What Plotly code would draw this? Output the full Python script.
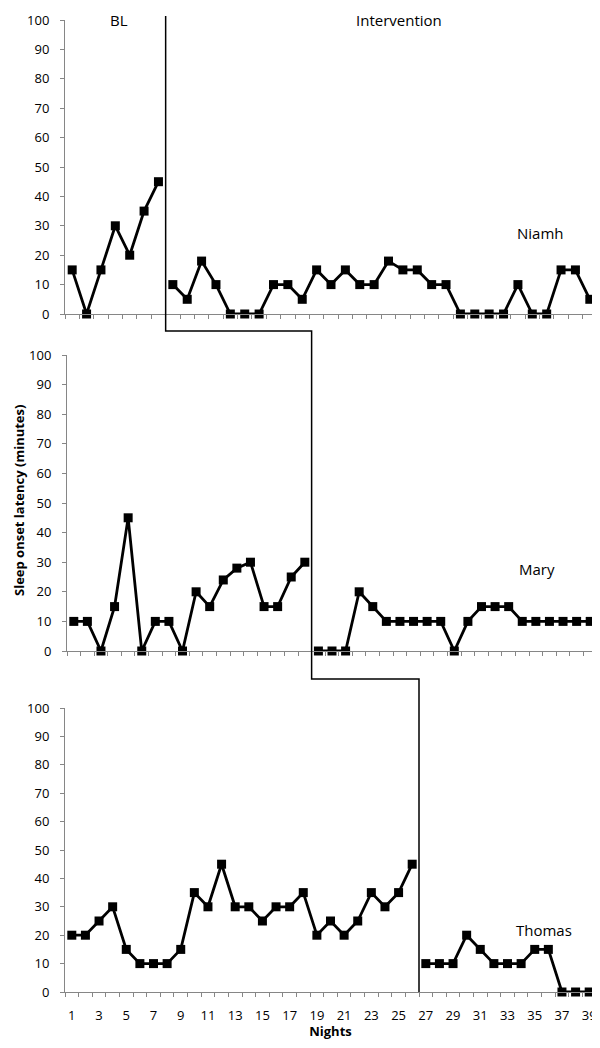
'''
    Multiple-baseline plot of sleep onset latency for three children.
'''
import plotly.graph_objects as go

# Data
NAMES = ["Niamh", "Mary", "Thomas"]
N_NIGHTS = [37, 39, 39]
BASELINE_LEN = [7, 18, 26]

niamh = [15, 0, 15, 30, 20, 35, 45,
         10, 5, 18, 10, 0, 0, 0, 10, 10, 5, 15, 10, 15, 10, 10, 18, 15, 15,
         10, 10, 0, 0, 0, 0, 10, 0, 0, 15, 15, 5]
mary = [10, 10, 0, 15, 45, 0, 10, 10, 0, 20, 15, 24, 28, 30, 15, 15, 25, 30,
        0, 0, 0, 20, 15, 10, 10, 10, 10, 10, 0, 10, 15, 15, 15, 10, 10, 10,
        10, 10, 10]
thomas = [20, 20, 25, 30, 15, 10, 10, 10, 15, 35, 30, 45, 30, 30, 25, 30, 30,
          35, 20, 25, 20, 25, 35, 30, 35, 45,
          10, 10, 10, 20, 15, 10, 10, 10, 15, 15, 0, 0, 0]
SERIES = [niamh, mary, thomas]

Y_TICKS = list(range(0, 101, 10))
X_TICK_LABELS = list(range(1, 40, 2))

# the page body has an 8px margin, so the figure is placed 8px in
OFF = 8
W, H = 600 - OFF, 1048 - 2 * OFF
# panel placement in page pixels: (left, right, top, bottom)
PANELS = [(65, 597, 20, 314), (67, 597, 355, 651), (65, 596, 708, 992)]
FONT = "Open Sans"
AXIS_GREY = "#868686"


def px(pix):
    return (pix - OFF) / W


def py(pix):
    return 1 - (pix - OFF) / H


def to_paper_x(panel, x):
    left, right, _, _ = PANELS[panel]
    frac = (x - 0.5) / N_NIGHTS[panel]
    return px(left + frac * (right - left))


fig = go.Figure()

for i, (name, vals) in enumerate(zip(NAMES, SERIES)):
    nights = list(range(1, len(vals) + 1))
    b = BASELINE_LEN[i]
    sfx = "" if i == 0 else str(i + 1)
    for xs, ys in [(nights[:b], vals[:b]), (nights[b:], vals[b:])]:
        fig.add_trace(go.Scatter(
            x=xs, y=ys, mode="lines+markers",
            line=dict(color="black", width=2.8),
            marker=dict(symbol="square", size=9, color="black"),
            cliponaxis=False, showlegend=False,
            xaxis="x" + sfx, yaxis="y" + sfx,
        ))

    left, right, top, bottom = PANELS[i]
    last = i == 2
    fig.update_layout({
        "xaxis" + sfx: dict(
            domain=[px(left), px(right)],
            range=[0.5, N_NIGHTS[i] + 0.5],
            anchor="y" + sfx,
            showline=True, linecolor=AXIS_GREY, linewidth=1,
            showgrid=False, zeroline=False,
            tickmode="array",
            tickvals=X_TICK_LABELS if last else [],
            ticks="",
            showticklabels=last,
            ticklabelstandoff=11,
            tickfont=dict(family=FONT, size=13, color="black"),
            minor=dict(ticks="outside", tick0=0.5, dtick=1, ticklen=4,
                       tickcolor=AXIS_GREY, tickwidth=1),
            title=dict(text="<b>Nights</b>" if last else "",
                       font=dict(family=FONT, size=13, color="black"),
                       standoff=4),
            fixedrange=True, automargin=False,
        ),
        "yaxis" + sfx: dict(
            domain=[py(bottom), py(top)],
            range=[0, 100],
            anchor="x" + sfx,
            showline=True, linecolor=AXIS_GREY, linewidth=1,
            showgrid=False, zeroline=False,
            tickmode="array", tickvals=Y_TICKS,
            ticks="outside", ticklen=4, tickcolor=AXIS_GREY,
            ticklabelstandoff=8,
            tickfont=dict(family=FONT, size=13, color="black"),
            fixedrange=True, automargin=False,
        ),
    })

# phase change line, stepping down through the panels
gap_y = [py(331), py(679)]
top_y = py(16)
xs_line = [to_paper_x(i, BASELINE_LEN[i] + 0.5) for i in range(3)]
path = (f"M {xs_line[0]},{top_y} L {xs_line[0]},{gap_y[0]} "
        f"L {xs_line[1]},{gap_y[0]} L {xs_line[1]},{gap_y[1]} "
        f"L {xs_line[2]},{gap_y[1]} L {xs_line[2]},{py(PANELS[2][3])}")
fig.add_shape(type="path", path=path, xref="paper", yref="paper",
              line=dict(color="black", width=1.5))

label_font = dict(family=FONT, size=15, color="black")
annotations = [
    dict(text="BL", x=px(119), y=1, yanchor="top"),
    dict(text="Intervention", x=px(399), y=1, yanchor="top"),
    dict(text="Niamh", x=px(540), y=py(233)),
    dict(text="Mary", x=px(537), y=py(569)),
    dict(text="Thomas", x=px(544), y=py(930)),
]
for a in annotations:
    a.setdefault("yanchor", "middle")
    a.update(xref="paper", yref="paper", showarrow=False, font=label_font,
             xanchor="center")
annotations.append(dict(
    text="<b>Sleep onset latency (minutes)</b>", textangle=-90,
    x=0, y=py(501), xref="paper", yref="paper", showarrow=False,
    font=dict(family=FONT, size=13, color="black"),
    xanchor="left", yanchor="middle"))

fig.update_layout(
    width=W, height=H,
    margin=dict(l=0, r=0, t=0, b=0),
    paper_bgcolor="white", plot_bgcolor="white",
    annotations=annotations,
)

fig.write_html("out.html")
